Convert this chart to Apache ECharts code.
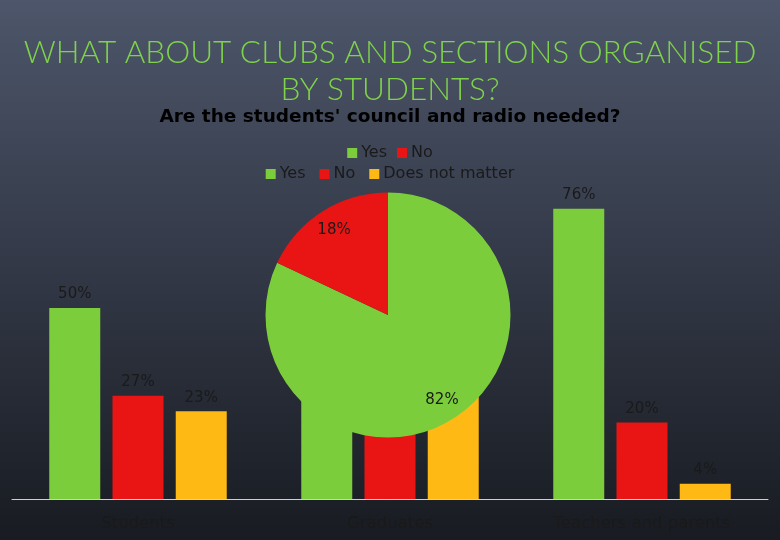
<!DOCTYPE html>
<html>
<head>
<meta charset="utf-8">
<script src="https://cdn.jsdelivr.net/npm/echarts@6/dist/echarts.min.js"></script>
<style>
html,body{margin:0;padding:0;background:#2a2f38;}
#chart{width:780px;height:540px;}
</style>
</head>
<body>
<div id="chart"></div>
<script>
// ---- data ----
const categories = ['Students', 'Graduates', 'Teachers and parents'];
const barSeriesNames = ['Yes', 'No', 'Does not matter'];
const yesValues = [50, 45, 76];
const noValues = [27, 24, 20];
const doesNotMatterValues = [23, 31, 4];
const pieNames = ['Yes', 'No'];
const pieValues = [82, 18];
const titleLines = ['WHAT ABOUT CLUBS AND SECTIONS ORGANISED', 'BY STUDENTS?'];
const subtitleText = "Are the students' council and radio needed?";

// ---- styles ----
const GREEN = '#7ccd3b';
const RED = '#e91515';
const YELLOW = '#ffb914';
const FONT = 'DejaVu Sans';
const TXT = '#1a1a1a';

const chart = echarts.init(document.getElementById('chart'));
const barValues = [yesValues, noValues, doesNotMatterValues];
const barColors = [GREEN, RED, YELLOW];

const barSeries = barSeriesNames.map((n, i) => ({
  name: n,
  type: 'bar',
  z: 2,
  barWidth: 51,
  barGap: '24%',
  itemStyle: { color: barColors[i] },
  label: {
    show: true, position: 'top', distance: 6,
    formatter: '{c}%', color: TXT, fontFamily: FONT, fontSize: 15
  },
  data: barValues[i]
}));

const pieData = pieNames.map((n, i) => ({ name: n, value: pieValues[i], itemStyle: { color: [GREEN, RED][i] } }));

chart.setOption({
  backgroundColor: new echarts.graphic.LinearGradient(0, 0, 0, 1, [
    { offset: 0, color: '#4d566a' },
    { offset: 0.5, color: '#323846' },
    { offset: 1, color: '#181b21' }
  ]),
  animation: false,
  title: [
    {
      text: titleLines.join('\n'),
      left: 'center', top: 29,
      textStyle: { color: '#7fd34a', fontFamily: 'Lato', fontWeight: 300, fontSize: 31.5, lineHeight: 37.5 }
    },
    {
      text: subtitleText,
      left: 'center', top: 103,
      textStyle: { color: '#000', fontFamily: FONT, fontWeight: 'bold', fontSize: 18.5 }
    }
  ],
  legend: [
    {
      data: pieNames, top: 140, left: 'center',
      itemWidth: 10, itemHeight: 10, itemGap: 10, icon: 'rect',
      textStyle: { color: TXT, fontFamily: FONT, fontSize: 16, padding: [0, 0, 0, -1] }
    },
    {
      data: barSeriesNames, top: 161, left: 'center',
      itemWidth: 10, itemHeight: 10, itemGap: 14, icon: 'rect',
      textStyle: { color: TXT, fontFamily: FONT, fontSize: 16, padding: [0, 0, 0, -1] }
    }
  ],
  grid: { left: 12, right: 12, top: 193.4, bottom: 41 },
  xAxis: {
    type: 'category', data: categories,
    axisLine: { lineStyle: { color: '#cfcfcf', width: 1 } },
    axisTick: { show: false },
    axisLabel: { color: TXT, fontFamily: FONT, fontSize: 16.5, margin: 16 }
  },
  yAxis: { type: 'value', min: 0, max: 80, show: false, splitLine: { show: false } },
  series: [
    ...barSeries,
    {
      name: 'pie', type: 'pie', z: 10,
      center: [388, 315], radius: 122.5,
      startAngle: 90, clockwise: true,
      label: { show: false }, labelLine: { show: false },
      data: pieData
    },
    {
      name: 'pieLabels', type: 'pie', z: 11, silent: true,
      center: [388, 315], radius: [73, 122.5],
      startAngle: 90, clockwise: true,
      legendHoverLink: false,
      itemStyle: { color: 'rgba(0,0,0,0)' },
      label: { show: true, position: 'inside', formatter: '{c}%', color: TXT, fontFamily: FONT, fontSize: 15 },
      labelLine: { show: false },
      data: pieNames.map((n, i) => ({ name: n, value: pieValues[i], itemStyle: { color: 'rgba(0,0,0,0)' } }))
    }
  ]
});
</script>
</body>
</html>
